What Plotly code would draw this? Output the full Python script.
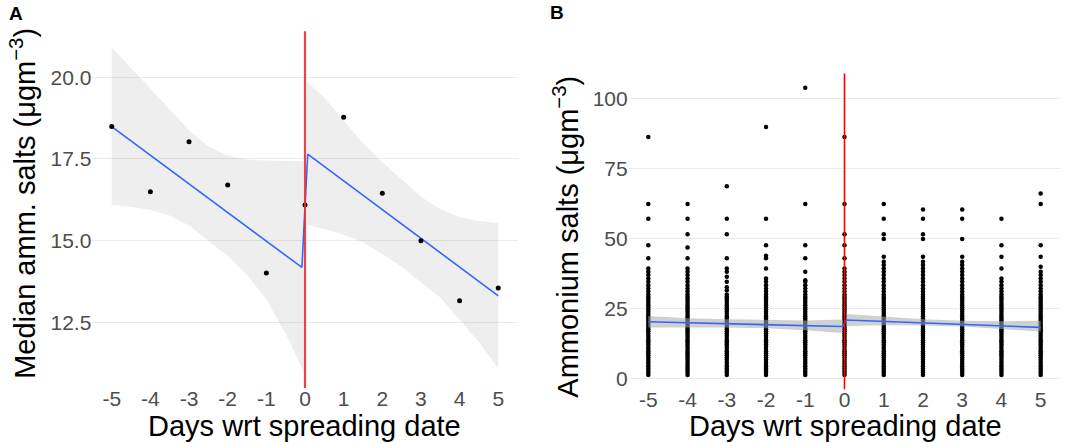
import plotly.graph_objects as go

# ---- shared ----
days = [-5, -4, -3, -2, -1, 0, 1, 2, 3, 4, 5]
day_labels = ["-5", "-4", "-3", "-2", "-1", "0", "1", "2", "3", "4", "5"]

# ---- panel A: daily medians with piecewise fit ----
median_salts = [18.49, 16.50, 18.03, 16.70, 14.01, 16.09, 18.78, 16.45, 15.00, 13.16, 13.55]

fit_a_x = [-5, -0.08, 0.07, 5]
fit_a_y = [18.49, 14.18, 17.65, 13.31]

band_a_left_x = [-5, -4.5, -4, -3.5, -3, -2.5, -2, -1.5, -1, -0.5, -0.04]
band_a_left_hi = [20.91, 20.29, 19.64, 19.02, 18.38, 17.88, 17.60, 17.48, 17.45, 17.44, 17.44]
band_a_left_lo = [16.09, 16.04, 15.94, 15.77, 15.46, 15.00, 14.53, 13.95, 13.20, 12.15, 11.00]

band_a_right_x = [0.05, 0.5, 1, 1.5, 2, 2.5, 3, 3.5, 4, 4.5, 5]
band_a_right_hi = [19.87, 19.37, 18.68, 17.99, 17.41, 16.88, 16.34, 15.96, 15.72, 15.60, 15.53]
band_a_right_lo = [15.49, 15.36, 15.18, 14.95, 14.59, 14.20, 13.72, 13.26, 12.58, 11.89, 11.09]

# ---- panel B: all daily values ----
dense = [1.2, 2.0, 2.7, 3.5, 4.3, 5.1, 5.8, 6.6, 7.4, 8.2, 9.0, 9.7, 10.5, 11.3,
         12.1, 12.9, 13.6, 14.4, 15.2, 16.0, 16.8, 17.5, 18.3, 19.1, 19.9, 20.7,
         21.4, 22.2, 23.0, 23.8, 24.6, 25.3, 26.1, 26.9, 27.7, 28.5, 29.2, 30.0]
upper_values = {
    -5: [31.0, 32.1, 33.3, 34.5, 35.7, 36.9, 38.1, 39.3, 42.9, 47.6, 57.1, 62.3, 86.3],
    -4: [31.0, 32.1, 33.3, 34.5, 35.7, 36.9, 38.1, 39.3, 42.9, 46.8, 51.5, 57.1, 62.3],
    -3: [31.5, 32.6, 34.5, 36.3, 38.1, 39.3, 42.9, 51.5, 57.1, 68.7],
    -2: [31.0, 32.1, 33.3, 34.5, 35.7, 39.3, 42.9, 43.8, 47.6, 57.1, 89.9],
    -1: [31.0, 32.1, 33.3, 34.5, 35.1, 38.1, 42.9, 47.6, 62.3, 103.9],
    0: [31.0, 32.1, 33.3, 34.5, 35.7, 36.9, 38.1, 39.3, 42.9, 47.6, 51.5, 62.3, 86.3],
    1: [31.0, 32.1, 33.3, 34.5, 35.7, 36.9, 38.1, 39.3, 40.5, 41.7, 43.5, 49.8, 51.5, 57.1, 62.3],
    2: [31.0, 32.1, 33.3, 34.5, 35.7, 36.9, 38.1, 39.3, 40.5, 41.7, 43.5, 49.8, 51.5, 57.1, 60.4],
    3: [31.0, 32.1, 33.3, 34.5, 35.7, 36.9, 38.1, 39.3, 40.5, 41.7, 43.5, 49.8, 57.1, 60.4],
    4: [31.0, 32.1, 33.3, 34.5, 35.7, 39.3, 43.5, 47.6, 57.1],
    5: [31.0, 32.1, 33.3, 34.5, 35.7, 36.9, 38.1, 39.9, 43.5, 47.6, 62.3, 66.1],
}

fit_b_x = [-5, -0.05, 0.05, 5]
fit_b_y = [20.2, 18.5, 20.85, 18.2]

band_b_left_x = [-5, -4, -3, -2, -1, -0.05]
band_b_left_hi = [22.3, 21.5, 21.1, 20.9, 20.7, 21.0]
band_b_left_lo = [18.2, 18.3, 18.2, 17.9, 17.2, 16.2]

band_b_right_x = [0.05, 1, 2, 3, 4, 5]
band_b_right_hi = [23.0, 22.0, 21.1, 20.6, 20.4, 20.6]
band_b_right_lo = [18.7, 19.0, 18.9, 18.5, 17.6, 16.7]

FONT = "Liberation Sans, Arial, Helvetica, sans-serif"
BLUE = "#3366FF"

W, H = 1065, 443


def px(x):
    return x / W


def py(y):
    return 1 - y / H


fig = go.Figure()


def add_band(xs, hi, lo, color, xa, ya):
    fig.add_trace(go.Scatter(
        x=xs + xs[::-1], y=hi + lo[::-1], fill="toself", fillcolor=color,
        line=dict(width=0), mode="lines", hoverinfo="skip", showlegend=False,
        xaxis=xa, yaxis=ya,
    ))


# panel A
add_band(band_a_left_x, band_a_left_hi, band_a_left_lo, "rgba(153,153,153,0.17)", "x", "y")
add_band(band_a_right_x, band_a_right_hi, band_a_right_lo, "rgba(153,153,153,0.17)", "x", "y")
fig.add_trace(go.Scatter(x=fit_a_x, y=fit_a_y, mode="lines",
                         line=dict(color=BLUE, width=1.6), showlegend=False,
                         xaxis="x", yaxis="y"))
fig.add_trace(go.Scatter(x=days, y=median_salts, mode="markers",
                         marker=dict(color="black", size=5), showlegend=False,
                         xaxis="x", yaxis="y"))

# panel B
pts_x, pts_y = [], []
for d in days:
    vals = dense + upper_values[d]
    pts_x += [d] * len(vals)
    pts_y += vals
fig.add_trace(go.Scatter(x=pts_x, y=pts_y, mode="markers",
                         marker=dict(color="black", size=4.5), showlegend=False,
                         xaxis="x2", yaxis="y2"))
add_band(band_b_left_x, band_b_left_hi, band_b_left_lo, "rgba(165,172,165,0.55)", "x2", "y2")
add_band(band_b_right_x, band_b_right_hi, band_b_right_lo, "rgba(165,172,165,0.55)", "x2", "y2")
fig.add_trace(go.Scatter(x=fit_b_x, y=fit_b_y, mode="lines",
                         line=dict(color=BLUE, width=1.6), showlegend=False,
                         xaxis="x2", yaxis="y2"))

# red spreading-date lines
fig.add_shape(type="line", xref="x", yref="y domain", x0=0, x1=0, y0=0, y1=1,
              line=dict(color="rgba(235,45,45,0.9)", width=2.2), layer="above")
fig.add_shape(type="line", xref="x2", yref="y2 domain", x0=0, x1=0, y0=0, y1=1,
              line=dict(color="#FF0000", width=1.6), layer="above")

tick_font = dict(family=FONT, size=21, color="#4D4D4D")
xaxis_common = dict(range=[-5.5, 5.5], tickvals=days, ticktext=day_labels,
                    showgrid=False, zeroline=False, showline=False, ticks="",
                    ticklabelstandoff=-4, tickfont=tick_font, automargin=False)
yaxis_common = dict(showgrid=True, gridcolor="#EBEBEB", gridwidth=1, zeroline=False,
                    showline=False, ticks="", tickfont=tick_font, automargin=False)

title_font = dict(family=FONT, size=29, color="black")
label_font = dict(family=FONT, size=19, color="black")


def note(text, x, y, font, angle=0):
    return dict(text=text, x=px(x), y=py(y), xref="paper", yref="paper",
                xanchor="center", yanchor="middle", textangle=angle,
                showarrow=False, font=font)


fig.update_layout(
    width=W, height=H,
    margin=dict(l=0, r=0, t=0, b=0),
    paper_bgcolor="white", plot_bgcolor="white",
    font=dict(family=FONT),
    xaxis=dict(domain=[px(92.4), px(517.6)], anchor="y", **xaxis_common),
    yaxis=dict(domain=[py(388.0), py(31.2)], anchor="x", range=[10.49, 21.41],
               tickvals=[12.5, 15, 17.5, 20], tickformat=".1f", **yaxis_common),
    xaxis2=dict(domain=[px(628.7), px(1060.3)], anchor="y2", **xaxis_common),
    yaxis2=dict(domain=[py(389.2), py(73.5)], anchor="x2", range=[-3.9, 109.0],
                tickvals=[0, 25, 50, 75, 100], **yaxis_common),
    annotations=[
        note("<b>A</b>", 15.8, 13.3, label_font),
        note("<b>B</b>", 556.5, 12.0, label_font),
        note("Median amm. salts (μgm<sup>−3</sup>)", 23.3, 203.5, title_font, -90),
        note("Ammonium salts (μgm<sup>−3</sup>)", 566.0, 236.7, title_font, -90),
        note("Days wrt spreading date", 304.0, 426.0, title_font),
        note("Days wrt spreading date", 845.0, 426.0, title_font),
    ],
)

# drop the browser's default body margin so the figure fills the window
fig.write_html("out.html", config={"displayModeBar": False},
               post_script="document.body.style.margin = '0';")
